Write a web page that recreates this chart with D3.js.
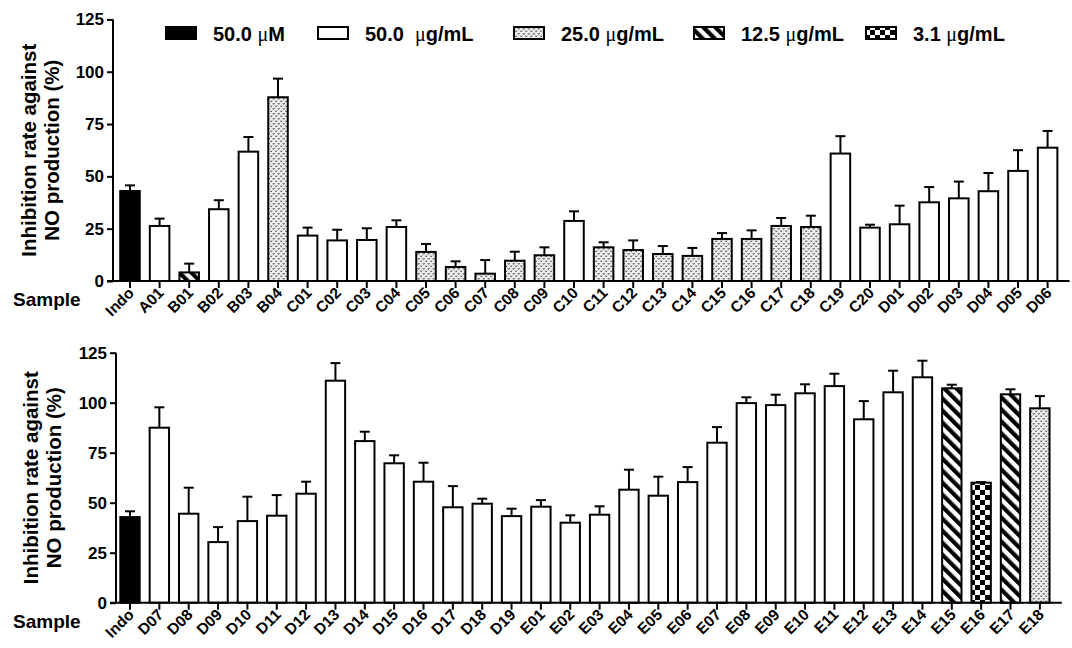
<!DOCTYPE html>
<html>
<head>
<meta charset="utf-8">
<script src="https://cdn.jsdelivr.net/npm/d3@7"></script>
<style>
  html, body { margin: 0; padding: 0; background: #fff; }
  svg { display: block; }
  text { font-family: Arial, "Liberation Sans", Helvetica, sans-serif; }
</style>
</head>
<body>
<svg id="chart" width="1072" height="648"></svg>
<script>
// ---- data -------------------------------------------------------------
const groupKeys = ["indo", "w50", "d25", "h12", "c3"];
const groupLabels = ["50.0 \u03bcM", "50.0  \u03bcg/mL", "25.0 \u03bcg/mL", "12.5 \u03bcg/mL", "3.1 \u03bcg/mL"];
const yTicks = [0, 25, 50, 75, 100, 125];

const topCategories = ["Indo","A01","B01","B02","B03","B04","C01","C02","C03","C04","C05","C06","C07","C08","C09","C10",
  "C11","C12","C13","C14","C15","C16","C17","C18","C19","C20","D01","D02","D03","D04","D05","D06"];
const topValues = [43.0,26.3,4.1,34.3,61.8,87.8,21.7,19.4,19.6,25.8,13.9,6.7,3.5,9.7,12.3,28.7,
  16.1,14.8,12.9,12.0,20.1,20.1,26.3,25.8,60.9,25.5,27.1,37.6,39.5,42.9,52.6,63.7];
const topErrors = [2.7,3.5,4.2,4.3,7.0,8.9,3.8,5.1,5.6,3.2,3.8,2.7,6.5,4.3,3.8,4.6,
  2.4,4.6,3.8,3.8,2.8,4.1,3.8,5.4,8.3,1.4,8.9,7.3,8.0,8.7,9.9,8.0];
const topGroups = ["indo","w50","h12","w50","w50","d25","w50","w50","w50","w50","d25","d25","d25","d25","d25","w50",
  "d25","d25","d25","d25","d25","d25","d25","d25","w50","w50","w50","w50","w50","w50","w50","w50"];

const bottomCategories = ["Indo","D07","D08","D09","D10","D11","D12","D13","D14","D15","D16","D17","D18","D19",
  "E01","E02","E03","E04","E05","E06","E07","E08","E09","E10","E11","E12","E13","E14","E15","E16","E17","E18"];
const bottomValues = [42.8,87.5,44.5,30.3,40.8,43.5,54.5,111.0,80.8,69.7,60.5,47.7,49.5,43.3,
  48.0,40.0,44.0,56.5,53.5,60.3,80.0,99.8,98.8,104.7,108.3,91.7,105.2,112.7,107.2,60.0,104.2,97.2];
const bottomErrors = [2.9,10.2,13.0,7.5,12.2,10.3,6.0,8.8,4.7,4.0,9.5,10.6,2.5,3.7,
  3.3,3.7,4.2,10.0,9.5,7.5,7.8,2.9,5.2,4.5,6.2,9.1,10.8,8.3,1.8,0.3,2.5,6.1];
const bottomGroups = ["indo","w50","w50","w50","w50","w50","w50","w50","w50","w50","w50","w50","w50","w50",
  "w50","w50","w50","w50","w50","w50","w50","w50","w50","w50","w50","w50","w50","w50","h12","c3","h12","d25"];

// ---- fills --------------------------------------------------------------
const svg = d3.select("#chart");
svg.append("rect").attr("width", 1072).attr("height", 648).attr("fill", "#fff");
const defs = svg.append("defs");

// stippled light fill
const pd = defs.append("pattern").attr("id", "pat-d25").attr("patternUnits", "userSpaceOnUse")
  .attr("width", 5).attr("height", 5);
pd.append("rect").attr("width", 5).attr("height", 5).attr("fill", "#ececec");
pd.append("path").attr("d", "M0.3,0.6 L1.2,1.9 L2.1,0.6 M2.8,3.1 L3.7,4.4 L4.6,3.1")
  .attr("fill", "none").attr("stroke", "#444").attr("stroke-width", 0.9);

// diagonal hatch
const ph = defs.append("pattern").attr("id", "pat-h12").attr("patternUnits", "userSpaceOnUse")
  .attr("width", 8.5).attr("height", 8.5).attr("patternTransform", "rotate(-45)");
ph.append("rect").attr("width", 8.5).attr("height", 8.5).attr("fill", "#fff");
ph.append("rect").attr("width", 4.2).attr("height", 8.5).attr("fill", "#000");

// checkerboard
const pc = defs.append("pattern").attr("id", "pat-c3").attr("patternUnits", "userSpaceOnUse")
  .attr("width", 10).attr("height", 10);
pc.append("rect").attr("width", 10).attr("height", 10).attr("fill", "#fff");
pc.append("rect").attr("width", 5).attr("height", 5).attr("fill", "#000");
pc.append("rect").attr("x", 5).attr("y", 5).attr("width", 5).attr("height", 5).attr("fill", "#000");

const fillFor = d3.scaleOrdinal().domain(groupKeys)
  .range(["#000", "#fff", "url(#pat-d25)", "url(#pat-h12)", "url(#pat-c3)"]);

// ---- one bar panel ----------------------------------------------------------
function drawPanel(cfg) {
  const g = svg.append("g");
  const x = d3.scaleBand().domain(cfg.categories)
    .range([cfg.firstCenter - cfg.step / 2, cfg.firstCenter + cfg.step * (cfg.categories.length - 0.5)])
    .paddingInner(0.34).paddingOuter(0.17);
  const y = d3.scaleLinear().domain([0, 125]).range([cfg.y0, cfg.y125]);
  const cxOf = c => x(c) + x.bandwidth() / 2;
  const rows = cfg.categories.map((c, i) => ({ c, v: cfg.values[i], e: cfg.errors[i], grp: cfg.groups[i] }));

  // error bars (upper only)
  const eb = g.append("g").attr("stroke", "#000").attr("stroke-width", 2).attr("fill", "none");
  rows.forEach(d => {
    const cx = cxOf(d.c);
    eb.append("line").attr("x1", cx).attr("x2", cx).attr("y1", y(d.v)).attr("y2", y(d.v + d.e));
    eb.append("line").attr("x1", cx - 5).attr("x2", cx + 5).attr("y1", y(d.v + d.e)).attr("y2", y(d.v + d.e));
  });

  // bars
  g.append("g").selectAll("rect").data(rows).join("rect")
    .attr("x", d => x(d.c)).attr("width", x.bandwidth())
    .attr("y", d => y(d.v)).attr("height", d => y(0) - y(d.v))
    .attr("fill", d => fillFor(d.grp))
    .attr("stroke", "#000").attr("stroke-width", 2);

  // y axis
  const ya = g.append("g").attr("transform", `translate(${cfg.axisX},0)`)
    .call(d3.axisLeft(y).tickValues(yTicks).tickSize(6).tickPadding(3));
  ya.select(".domain").attr("stroke-width", 2).attr("d", `M0,${y(125)}V${y(0)}`);
  ya.selectAll(".tick line").attr("stroke-width", 2);
  ya.selectAll(".tick text").attr("font-size", 17).attr("font-weight", "bold").attr("fill", "#000")
    .attr("font-family", "Arial, 'Liberation Sans', sans-serif");

  // x axis (ticks only; labels drawn at 45 degrees below)
  const xa = g.append("g").attr("transform", `translate(0,${y(0)})`)
    .call(d3.axisBottom(x).tickSize(7).tickSizeOuter(0).tickFormat(""));
  xa.select(".domain").attr("stroke-width", 2)
    .attr("d", `M${cfg.axisX - 6},0H${cxOf(cfg.categories[cfg.categories.length - 1]) + 22}`);
  xa.selectAll(".tick line").attr("stroke-width", 2);

  g.append("g").selectAll("text").data(cfg.categories).join("text")
    .attr("transform", c => `translate(${cxOf(c) + 5},${y(0) + 13}) rotate(-45)`)
    .attr("text-anchor", "end")
    .attr("font-size", 15.5).attr("font-weight", "bold").attr("fill", "#000")
    .text(c => c);

  // axis titles
  const mid = (y(0) + y(125)) / 2;
  const t = g.append("text").attr("font-size", 20.5).attr("font-weight", "bold").attr("text-anchor", "middle")
    .attr("transform", `translate(${cfg.titleX},${mid}) rotate(-90)`);
  t.append("tspan").attr("x", 0).attr("y", 0).text("Inhibition rate against");
  t.append("tspan").attr("x", 0).attr("y", 23).text("NO production (%)");

  g.append("text").attr("x", 13).attr("y", y(0) + 25).attr("font-size", 19).attr("font-weight", "bold")
    .text("Sample");
}

drawPanel({ categories: topCategories, values: topValues, errors: topErrors, groups: topGroups,
  firstCenter: 130, step: 29.6, y0: 281, y125: 19.4, axisX: 113, titleX: 36 });
drawPanel({ categories: bottomCategories, values: bottomValues, errors: bottomErrors, groups: bottomGroups,
  firstCenter: 130, step: 29.35, y0: 602.7, y125: 352.7, axisX: 116, titleX: 38 });

// ---- legend -------------------------------------------------------------
const legendX = [166, 318, 514, 694, 866];
const lg = svg.append("g");
groupKeys.forEach((k, i) => {
  lg.append("rect").attr("x", legendX[i]).attr("y", 27).attr("width", 30).attr("height", 12)
    .attr("fill", fillFor(k)).attr("stroke", "#000").attr("stroke-width", 2);
  const parts = groupLabels[i].split("\u03bc");
  const tx = lg.append("text").attr("x", legendX[i] + 47).attr("y", 40.5)
    .attr("font-size", 20).attr("font-weight", "bold").attr("fill", "#000").style("white-space", "pre");
  tx.append("tspan").text(parts[0]);
  tx.append("tspan").attr("font-family", "'Liberation Serif', 'DejaVu Serif', serif").attr("font-weight", "normal").text("\u03bc");
  tx.append("tspan").text(parts[1]);
});
</script>
</body>
</html>
